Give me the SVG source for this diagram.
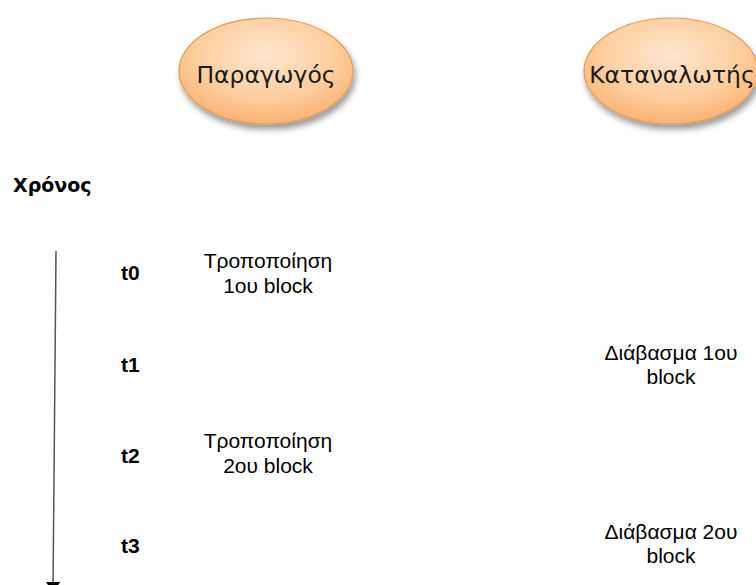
<svg xmlns="http://www.w3.org/2000/svg" width="756" height="585" viewBox="0 0 756 585">
  <defs>
    <radialGradient id="og" cx="50%" cy="35%" r="65%">
      <stop offset="0" stop-color="#fee6cf"/>
      <stop offset="0.6" stop-color="#fdcf9f"/>
      <stop offset="1" stop-color="#f9b373"/>
    </radialGradient>
    <filter id="sh" x="-20%" y="-20%" width="150%" height="160%">
      <feGaussianBlur in="SourceAlpha" stdDeviation="3"/>
      <feOffset dx="2" dy="5" result="b"/>
      <feComponentTransfer><feFuncA type="linear" slope="0.4"/></feComponentTransfer>
      <feMerge><feMergeNode/><feMergeNode in="SourceGraphic"/></feMerge>
    </filter>
    <marker id="arr" markerWidth="12" markerHeight="14" refX="11" refY="7" orient="auto" markerUnits="userSpaceOnUse" viewBox="0 0 12 14">
      <path d="M0,0 L11,7 L0,14 Z" fill="#000"/>
    </marker>
  </defs>
  <style>
    .node ellipse { fill: url(#og); stroke: #e39a4f; stroke-width: 1.2; filter: url(#sh); }
    .ntext { font-family: "DejaVu Sans", "Open Sans", sans-serif; font-size: 23.5px; fill: #1a1a1a; text-anchor: middle; }
    .lbl { font-family: "Liberation Sans", Arial, sans-serif; font-size: 21px; fill: #000; text-anchor: middle; }
    .tk { font-family: "Liberation Sans", Arial, sans-serif; font-size: 21px; font-weight: bold; fill: #000; }
    .hdr { font-family: "DejaVu Sans", "Open Sans", sans-serif; font-size: 19px; font-weight: bold; fill: #000; }
  </style>
  <rect width="756" height="585" fill="#fff"/>
  <g id="producer" class="node">
    <ellipse cx="266" cy="71" rx="87" ry="53"/>
    <text class="ntext" x="266" y="83">Παραγωγός</text>
  </g>
  <g id="consumer" class="node">
    <ellipse cx="671" cy="71" rx="87" ry="53"/>
    <text class="ntext" x="672" y="83">Καταναλωτής</text>
  </g>
  <g id="time-header">
    <text class="hdr" x="13" y="192">Χρόνος</text>
  </g>
  <g id="connectors">
    <line x1="56" y1="251" x2="53" y2="593" stroke="#555" stroke-width="1.5" marker-end="url(#arr)"/>
  </g>
  <g id="ticks">
    <text class="tk" x="121" y="280">t0</text>
    <text class="tk" x="121" y="372">t1</text>
    <text class="tk" x="121" y="463">t2</text>
    <text class="tk" x="121" y="553">t3</text>
  </g>
  <g id="prod-t0">
    <text class="lbl" x="268" y="268">Τροποποίηση</text>
    <text class="lbl" x="268" y="293">1ου block</text>
  </g>
  <g id="cons-t1">
    <text class="lbl" x="671" y="360">Διάβασμα 1ου</text>
    <text class="lbl" x="671" y="384">block</text>
  </g>
  <g id="prod-t2">
    <text class="lbl" x="268" y="448">Τροποποίηση</text>
    <text class="lbl" x="268" y="473">2ου block</text>
  </g>
  <g id="cons-t3">
    <text class="lbl" x="671" y="539">Διάβασμα 2ου</text>
    <text class="lbl" x="671" y="563">block</text>
  </g>
</svg>
